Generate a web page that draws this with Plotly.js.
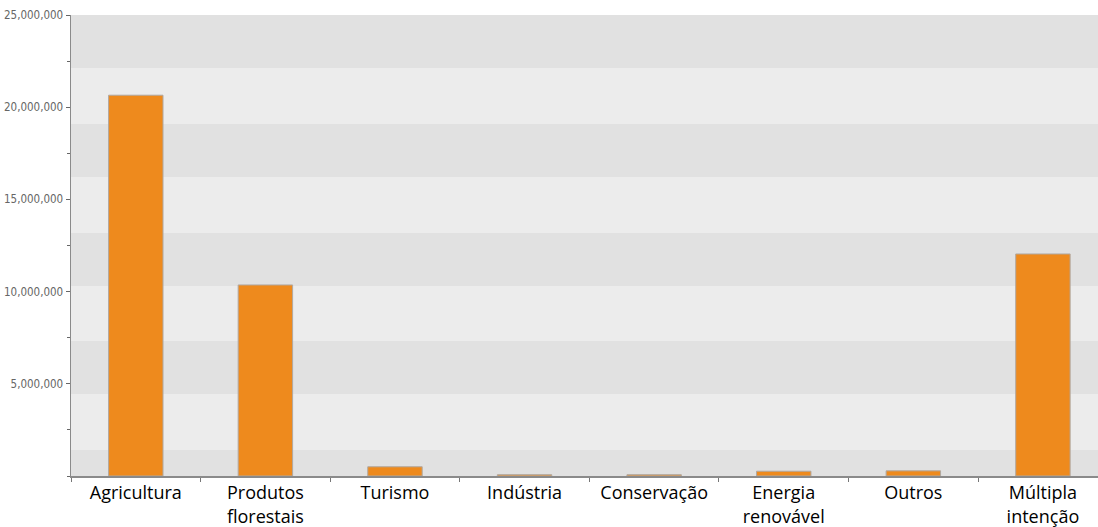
<!DOCTYPE html>
<html>
<head>
<meta charset="utf-8">
<script src="https://cdn.plot.ly/plotly-3.0.1.min.js"></script>
<style>html,body{margin:0;padding:0;background:#fff;}#chart{width:1098px;height:527px;}</style>
</head>
<body>
<div id="chart"></div>
<script>
const categories = ["Agricultura", "Produtos<br>florestais", "Turismo", "Indústria", "Conservação", "Energia<br>renovável", "Outros", "Múltipla<br>intenção"];
const values = [20650000, 10360000, 500000, 70000, 70000, 260000, 280000, 12040000];
const yTickValues = [5000000, 10000000, 15000000, 20000000, 25000000];
const yTickLabels = ["5,000,000", "10,000,000", "15,000,000", "20,000,000", "25,000,000"];
// background band edges (value units)
const bandEdges = [[0, 1410000], [4450000, 7320000], [10300000, 13180000], [16210000, 19090000], [22130000, 25000000]];

const shapes = bandEdges.map(b => ({
  type: 'rect', xref: 'paper', yref: 'y', x0: 0, x1: 1, y0: b[0], y1: b[1],
  fillcolor: '#e1e1e1', line: {width: 0}, layer: 'below'
}));

const trace = {
  type: 'bar', x: categories, y: values, width: 0.42,
  marker: {color: '#ee8a1d', line: {color: '#b0a8a0', width: 1}},
  hoverinfo: 'x+y'
};

const layout = {
  width: 1098, height: 527,
  margin: {l: 71, r: 0, t: 15, b: 51},
  paper_bgcolor: '#ffffff', plot_bgcolor: '#ececec',
  showlegend: false, bargap: 0.58,
  shapes: shapes,
  xaxis: {
    range: [-0.5, 7.425], showgrid: false, zeroline: false,
    showline: true, linecolor: '#8a8a8a', linewidth: 1.5,
    ticks: 'outside', tickson: 'boundaries', ticklen: 4, tickcolor: '#777',
    tickfont: {family: 'Open Sans, Lato, sans-serif', size: 18, color: '#000'},
    automargin: false
  },
  yaxis: {
    range: [0, 25000000], showgrid: false, zeroline: false,
    showline: true, linecolor: '#8a8a8a', linewidth: 1.5,
    tickmode: 'array', tickvals: yTickValues, ticktext: yTickLabels,
    ticks: 'outside', ticklen: 4, tickcolor: '#666',
    tickfont: {family: 'DejaVu Sans Condensed, Liberation Sans Narrow, sans-serif', size: 11.5, color: '#666'},
    minor: {dtick: 2500000, tick0: 2500000, ticks: 'outside', ticklen: 3, tickcolor: '#666', showgrid: false},
    automargin: false
  }
};

Plotly.newPlot('chart', [trace], layout, {displayModeBar: false, staticPlot: true});
</script>
</body>
</html>
